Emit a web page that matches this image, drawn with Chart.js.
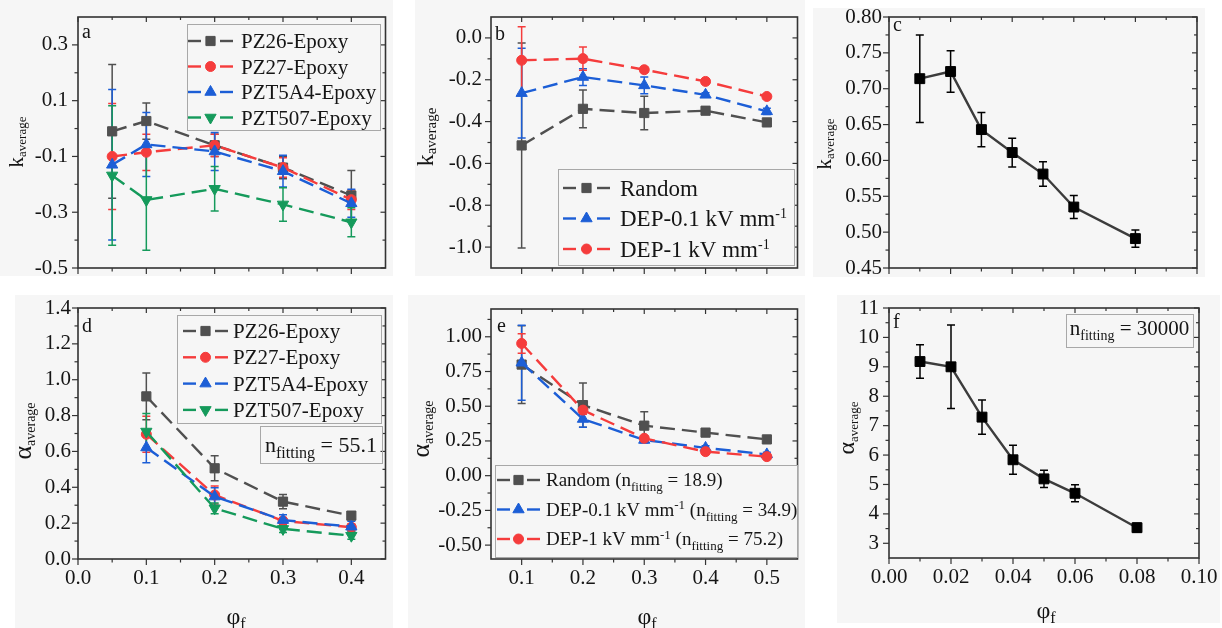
<!DOCTYPE html>
<html lang="en">
<head>
<meta charset="UTF-8">
<title>k_average and alpha_average vs phi_f</title>
<script src="https://cdn.jsdelivr.net/npm/chart.js"></script>
<style>
  body { margin: 0; background: #fff; font-family: "Liberation Serif", "DejaVu Serif", serif; }
  #fig { position: relative; width: 1222px; height: 628px; overflow: hidden; background: #fff; }
  #fig canvas { position: absolute; background: #f6f6f6; }
  #probe { position: absolute; left: -999px; top: 0; font: 21px "Liberation Serif"; }
</style>
</head>
<body>
<div id="fig">
  <canvas id="pa"></canvas>
  <canvas id="pb"></canvas>
  <canvas id="pc"></canvas>
  <canvas id="pd"></canvas>
  <canvas id="pe"></canvas>
  <canvas id="pf"></canvas>
</div>
<span id="probe">PZ26-Epoxy 0.1 φα</span>
<script>
// ---- values ----
const MATERIALS = ['PZ26-Epoxy', 'PZ27-Epoxy', 'PZT5A4-Epoxy', 'PZT507-Epoxy'];

// panel a: k_average per material
const PHI_A = [0.05, 0.1, 0.2, 0.3, 0.4];
const K_PZ26 = [-0.01, 0.027, -0.06, -0.14, -0.24];
const K_PZ26_ERR = [0.24, 0.065, 0.04, 0.04, 0.09];
const K_PZ27 = [-0.10, -0.085, -0.06, -0.14, -0.255];
const K_PZ27_ERR = [0.19, 0.065, 0.04, 0.035, 0.035];
const K_PZT5A4 = [-0.13, -0.057, -0.082, -0.153, -0.268];
const K_PZT5A4_ERR = [0.27, 0.115, 0.068, 0.057, 0.05];
const K_PZT507 = [-0.168, -0.256, -0.216, -0.272, -0.336];
const K_PZT507_ERR = [0.25, 0.18, 0.08, 0.06, 0.052];

// panel d: alpha_average per material
const PHI_D = [0.1, 0.2, 0.3, 0.4];
const A_PZ26 = [0.907, 0.506, 0.32, 0.242];
const A_PZ26_ERR = [0.13, 0.07, 0.04, 0.02];
const A_PZ27 = [0.696, 0.357, 0.212, 0.177];
const A_PZ27_ERR = [0.1, 0.05, 0.02, 0.02];
const A_PZT5A4 = [0.622, 0.348, 0.217, 0.18];
const A_PZT5A4_ERR = [0.085, 0.05, 0.03, 0.03];
const A_PZT507 = [0.711, 0.283, 0.168, 0.13];
const A_PZT507_ERR = [0.1, 0.03, 0.02, 0.02];

// panels b and e: random vs DEP
const PHI_BE = [0.1, 0.2, 0.3, 0.4, 0.5];
const K_RANDOM = [-0.514, -0.339, -0.359, -0.348, -0.404];
const K_RANDOM_ERR = [0.49, 0.09, 0.08, 0.015, 0.015];
const K_DEP01 = [-0.264, -0.187, -0.227, -0.272, -0.351];
const K_DEP01_ERR = [0.215, 0.04, 0.04, 0.01, 0.015];
const K_DEP1 = [-0.107, -0.099, -0.152, -0.208, -0.28];
const K_DEP1_ERR = [0.16, 0.055, 0.012, 0.01, 0.012];
const A_RANDOM = [0.80, 0.508, 0.36, 0.31, 0.261];
const A_RANDOM_ERR = [0.28, 0.16, 0.1, 0.02, 0.015];
const A_DEP01 = [0.813, 0.408, 0.257, 0.2, 0.153];
const A_DEP01_ERR = [0.27, 0.06, 0.02, 0.015, 0.015];
const A_DEP1 = [0.952, 0.472, 0.269, 0.173, 0.137];
const A_DEP1_ERR = [0.07, 0.03, 0.015, 0.01, 0.01];

// panels c and f: low volume fraction
const PHI_CF = [0.01, 0.02, 0.03, 0.04, 0.05, 0.06, 0.08];
const K_LOW = [0.714, 0.724, 0.643, 0.611, 0.581, 0.535, 0.491];
const K_LOW_ERR = [0.061, 0.029, 0.024, 0.02, 0.017, 0.016, 0.012];
const A_LOW = [9.18, 9.0, 7.29, 5.84, 5.19, 4.70, 3.53];
const A_LOW_ERR = [0.57, 1.42, 0.58, 0.49, 0.29, 0.29, 0.15];

const N_FIT_D = '55.1';
const N_FIT_E = ['18.9', '34.9', '75.2'];
const N_FIT_F = '30000';

// tick labels
const X_TICKS_AD = [0, 0.1, 0.2, 0.3, 0.4];
const X_TICKS_BE = [0.1, 0.2, 0.3, 0.4, 0.5];
const X_TICKS_CF = [0, 0.02, 0.04, 0.06, 0.08, 0.10];
const Y_TICKS_A = [-0.5, -0.3, -0.1, 0.1, 0.3];
const Y_TICKS_B = [-1.0, -0.8, -0.6, -0.4, -0.2, 0.0];
const Y_TICKS_C = [0.45, 0.50, 0.55, 0.60, 0.65, 0.70, 0.75, 0.80];
const Y_TICKS_D = [0, 0.2, 0.4, 0.6, 0.8, 1.0, 1.2, 1.4];
const Y_TICKS_E = [-0.5, -0.25, 0, 0.25, 0.5, 0.75, 1.0];
const Y_TICKS_F = [3, 4, 5, 6, 7, 8, 9, 10, 11];

// ---- look ----
const FONT = '"Liberation Serif", "DejaVu Serif", "Times New Roman", Times, serif';
const INK = '#151515';
Chart.defaults.font.family = FONT;

const STYLES = {
  gray:  { color: '#505050', shape: 'rect', rot: 0, r: 6.5, dash: [15, 7] },
  red:   { color: '#f53c3c', shape: 'circle', rot: 0, r: 5, dash: [15, 7] },
  blue:  { color: '#1c5ed6', shape: 'triangle', rot: 0, r: 6.5, dash: [15, 7] },
  green: { color: '#159a5b', shape: 'triangle', rot: 180, r: 6.5, dash: [15, 7] },
  black: { color: '#000000', line: '#3c3c3c', shape: 'rect', rot: 0, r: 7, dash: [] }
};

// text with sub/superscripts; y is the baseline
function rich(ctx, segs, x, y, size, subSize, align, subDy) {
  const dy = subDy === undefined ? size * 0.25 : subDy;
  let w = 0;
  segs.forEach(s => {
    ctx.font = (s.sub || s.sup ? subSize : size) + 'px ' + FONT;
    w += ctx.measureText(s.t).width;
  });
  let cx = align === 'center' ? x - w / 2 : x;
  ctx.textBaseline = 'alphabetic';
  ctx.textAlign = 'left';
  segs.forEach(s => {
    ctx.font = (s.sub || s.sup ? subSize : size) + 'px ' + FONT;
    const off = s.sub ? dy : s.sup ? -size * 0.36 : 0;
    ctx.fillText(s.t, cx, y + off);
    cx += ctx.measureText(s.t).width;
  });
}

function marker(ctx, st, x, y) {
  const r = st.r;
  ctx.save();
  ctx.fillStyle = st.color;
  ctx.strokeStyle = st.color;
  ctx.lineWidth = 1;
  ctx.beginPath();
  if (st.shape === 'rect') {
    const s = r * Math.SQRT1_2;
    ctx.rect(x - s, y - s, 2 * s, 2 * s);
  } else if (st.shape === 'circle') {
    ctx.arc(x, y, r, 0, Math.PI * 2);
  } else {
    let a = st.rot * Math.PI / 180;
    ctx.moveTo(x + Math.sin(a) * r, y - Math.cos(a) * r);
    a += 2 * Math.PI / 3;
    ctx.lineTo(x + Math.sin(a) * r, y - Math.cos(a) * r);
    a += 2 * Math.PI / 3;
    ctx.lineTo(x + Math.sin(a) * r, y - Math.cos(a) * r);
    ctx.closePath();
  }
  ctx.fill();
  ctx.stroke();
  ctx.restore();
}

function makePanel(p) {
  const [bx, by, bw, bh] = p.box;
  const [L, T, R, B] = p.area;
  const cv = document.getElementById(p.id);
  cv.width = bw; cv.height = bh;
  cv.style.left = bx + 'px'; cv.style.top = by + 'px';

  const datasets = p.series.map((s, i) => {
    const st = STYLES[s.st];
    return {
      label: s.label,
      data: s.xs.map((x, j) => ({ x, y: s.ys[j] })),
      err: s.err,
      st,
      showLine: true,
      borderColor: st.line || st.color,
      borderWidth: 2.4,
      borderDash: st.dash,
      pointStyle: st.shape,
      pointRotation: st.rot,
      pointRadius: st.r,
      pointBorderWidth: 1,
      pointBackgroundColor: st.color,
      pointBorderColor: st.color,
      order: p.series.length - i
    };
  });

  const tickFont = { size: 21, family: FONT };
  const noPad = s => { s.paddingTop = 0; s.paddingBottom = 0; s.paddingLeft = 0; s.paddingRight = 0; };

  const plugin = {
    id: 'panel_' + p.id,
    beforeDatasetsDraw(chart) {
      const { ctx, scales: { x, y } } = chart;
      ctx.save();
      ctx.lineWidth = 1.5;
      chart.data.datasets.forEach(ds => {
        ctx.strokeStyle = ds.st.color;
        ds.data.forEach((pt, j) => {
          const e = ds.err[j];
          const px = x.getPixelForValue(pt.x);
          const t = y.getPixelForValue(pt.y + e), b = y.getPixelForValue(pt.y - e);
          ctx.beginPath();
          ctx.moveTo(px, t); ctx.lineTo(px, b);
          ctx.moveTo(px - 4, t); ctx.lineTo(px + 4, t);
          ctx.moveTo(px - 4, b); ctx.lineTo(px + 4, b);
          ctx.stroke();
        });
      });
      ctx.restore();
    },
    afterDatasetsDraw(chart) {
      const { ctx, chartArea: a, scales: { x, y } } = chart;
      ctx.save();
      // frame
      ctx.strokeStyle = '#333';
      ctx.lineWidth = 1.6;
      ctx.strokeRect(a.left, a.top, a.right - a.left, a.bottom - a.top);
      ctx.lineWidth = 1.2;
      const seg = (x1, y1, x2, y2) => { ctx.beginPath(); ctx.moveTo(x1, y1); ctx.lineTo(x2, y2); ctx.stroke(); };
      const minors = (ax) => {
        const out = [];
        for (let k = Math.ceil(ax.min / ax.minor - 1e-6); k * ax.minor <= ax.max + 1e-9; k++) {
          const v = k * ax.minor;
          if (!ax.ticks.some(t => Math.abs(t - v) < ax.minor * 0.01)) out.push(v);
        }
        return out;
      };
      p.y.ticks.forEach(v => {
        const py = y.getPixelForValue(v);
        seg(a.left - 6, py, a.left, py); seg(a.right - 5, py, a.right, py);
      });
      minors(p.y).forEach(v => {
        const py = y.getPixelForValue(v);
        if (Math.abs(py - a.top) < 1 || Math.abs(py - a.bottom) < 1) return;
        seg(a.left - 3.5, py, a.left, py); seg(a.right - 3, py, a.right, py);
      });
      p.x.ticks.forEach(v => {
        const px = x.getPixelForValue(v);
        seg(px, a.bottom, px, a.bottom + 6); seg(px, a.top, px, a.top + 5);
      });
      minors(p.x).forEach(v => {
        const px = x.getPixelForValue(v);
        if (Math.abs(px - a.left) < 1 || Math.abs(px - a.right) < 1) return;
        seg(px, a.bottom, px, a.bottom + 3.5); seg(px, a.top, px, a.top + 3);
      });

      ctx.fillStyle = INK;
      // panel letter
      ctx.font = '20px ' + FONT;
      ctx.textAlign = 'left'; ctx.textBaseline = 'alphabetic';
      ctx.fillText(p.letter[0], p.letter[1] - bx, p.letter[2] - by);

      // y title (rotated)
      const yt = p.yTitle;
      ctx.save();
      ctx.translate(yt.x - bx, yt.y - by);
      ctx.rotate(-Math.PI / 2);
      rich(ctx, [{ t: yt.main }, { t: 'average', sub: true }], 0, 0, yt.size, yt.subSize, 'center', yt.subDy);
      ctx.restore();

      // x title
      if (p.xTitle) {
        rich(ctx, [{ t: 'φ' }, { t: 'f', sub: true }], p.xTitle[0] - bx, p.xTitle[1] - by, 24, 16, 'center', 5);
      }

      // legend
      const lg = p.legend;
      if (lg) {
        const [l, t, r, b] = lg.box;
        ctx.fillStyle = '#f6f6f6';
        ctx.fillRect(l - bx, t - by, r - l, b - t);
        ctx.strokeStyle = '#a8a8a8';
        ctx.lineWidth = 1;
        ctx.strokeRect(l - bx + 0.5, t - by + 0.5, r - l, b - t);
        lg.items.forEach((segs, i) => {
          const st = datasets[i].st;
          const yy = lg.y0 + i * lg.dy - by;
          const x0 = lg.line[0] - bx, x1 = lg.line[1] - bx, xm = (x0 + x1) / 2;
          ctx.strokeStyle = st.line || st.color;
          ctx.lineWidth = 2.4;
          if (st.dash.length) {
            seg(x0, yy, x0 + 13, yy); seg(x1 - 13, yy, x1, yy);
          } else {
            seg(x0, yy, x1, yy);
          }
          marker(ctx, st, xm, yy);
          ctx.fillStyle = INK;
          rich(ctx, segs, lg.text - bx, yy + lg.size * 0.34, lg.size, lg.subSize, 'left');
        });
      }

      // n_fitting note
      const nt = p.note;
      if (nt) {
        const [l, t, r, b] = nt.box;
        ctx.strokeStyle = '#a8a8a8';
        ctx.lineWidth = 1;
        ctx.strokeRect(l - bx + 0.5, t - by + 0.5, r - l, b - t);
        ctx.fillStyle = INK;
        rich(ctx, nt.segs, (l + r) / 2 - bx, nt.base - by, nt.size, nt.subSize, 'center');
      }
      ctx.restore();
    }
  };

  new Chart(cv, {
    type: 'scatter',
    data: { datasets },
    plugins: [plugin],
    options: {
      responsive: false,
      animation: false,
      events: [],
      layout: { padding: { left: 0, top: T - by, right: bx + bw - R, bottom: 0 } },
      plugins: { legend: { display: false }, tooltip: { enabled: false } },
      scales: {
        x: {
          type: 'linear', min: p.x.min, max: p.x.max,
          afterBuildTicks: s => { s.ticks = p.x.ticks.map(v => ({ value: v })); },
          afterFit: s => { s.height = by + bh - B; noPad(s); },
          grid: { display: false, drawTicks: false },
          border: { display: false },
          ticks: {
            display: !!p.x.labels, padding: 7, color: INK, font: tickFont,
            maxRotation: 0, autoSkip: false,
            callback: v => Number(v).toFixed(p.x.dec)
          }
        },
        y: {
          type: 'linear', min: p.y.min, max: p.y.max,
          afterBuildTicks: s => { s.ticks = p.y.ticks.map(v => ({ value: v })); },
          afterFit: s => { s.width = L - bx; noPad(s); },
          grid: { display: false, drawTicks: false },
          border: { display: false },
          ticks: {
            padding: p.y.pad, color: INK, font: tickFont, autoSkip: false,
            callback: v => Number(v).toFixed(p.y.dec)
          }
        }
      }
    }
  });
}

const matSeries = (xs, vals, errs) => vals.map((ys, i) => ({
  label: MATERIALS[i], xs, ys, err: errs[i], st: ['gray', 'red', 'blue', 'green'][i]
}));

const PANELS = [
  {
    id: 'pa', box: [0, 0, 393, 276], area: [78, 17, 388, 268],
    x: { min: 0, max: 0.45, ticks: X_TICKS_AD, minor: 0.05, dec: 1, labels: false },
    y: { min: -0.5, max: 0.4, ticks: Y_TICKS_A, minor: 0.1, dec: 1, pad: 10 },
    series: matSeries(PHI_A, [K_PZ26, K_PZ27, K_PZT5A4, K_PZT507], [K_PZ26_ERR, K_PZ27_ERR, K_PZT5A4_ERR, K_PZT507_ERR]),
    letter: ['a', 82, 38],
    yTitle: { main: 'k', x: 23, y: 142, size: 21, subSize: 13, subDy: 3 },
    legend: { box: [187, 24, 380, 130], y0: 41, dy: 25.5, line: [188, 233], text: 241, size: 21, subSize: 14,
      items: MATERIALS.map(m => [{ t: m }]) }
  },
  {
    id: 'pb', box: [415, 0, 390, 276], area: [491, 17, 801, 268],
    x: { min: 0.05, max: 0.55, ticks: X_TICKS_BE, minor: 0.05, dec: 1, labels: false },
    y: { min: -1.1, max: 0.1, ticks: Y_TICKS_B, minor: 0.1, dec: 1, pad: 9 },
    series: [
      { label: 'Random', xs: PHI_BE, ys: K_RANDOM, err: K_RANDOM_ERR, st: 'gray' },
      { label: 'DEP-0.1 kV mm⁻¹', xs: PHI_BE, ys: K_DEP01, err: K_DEP01_ERR, st: 'blue' },
      { label: 'DEP-1 kV mm⁻¹', xs: PHI_BE, ys: K_DEP1, err: K_DEP1_ERR, st: 'red' }
    ],
    letter: ['b', 495, 40],
    yTitle: { main: 'k', x: 433, y: 137, size: 24, subSize: 15, subDy: 3 },
    legend: { box: [558, 169, 794, 265], y0: 188, dy: 30.5, line: [563, 610], text: 620, size: 23, subSize: 14,
      items: [[{ t: 'Random' }], [{ t: 'DEP-0.1 kV mm' }, { t: '-1', sup: true }], [{ t: 'DEP-1 kV mm' }, { t: '-1', sup: true }]] }
  },
  {
    id: 'pc', box: [813, 8, 392, 269], area: [889, 17, 1199, 268],
    x: { min: 0, max: 0.10, ticks: X_TICKS_CF, minor: 0.01, dec: 2, labels: false },
    y: { min: 0.45, max: 0.80, ticks: Y_TICKS_C, minor: 0.025, dec: 2, pad: 7 },
    series: [{ label: 'k', xs: PHI_CF, ys: K_LOW, err: K_LOW_ERR, st: 'black' }],
    letter: ['c', 893, 31],
    yTitle: { main: 'k', x: 831, y: 144, size: 21, subSize: 13, subDy: 3 }
  },
  {
    id: 'pd', box: [15, 295, 378, 333], area: [78, 308, 388, 559],
    x: { min: 0, max: 0.45, ticks: X_TICKS_AD, minor: 0.05, dec: 1, labels: true },
    y: { min: 0, max: 1.4, ticks: Y_TICKS_D, minor: 0.1, dec: 1, pad: 7 },
    series: matSeries(PHI_D, [A_PZ26, A_PZ27, A_PZT5A4, A_PZT507], [A_PZ26_ERR, A_PZ27_ERR, A_PZT5A4_ERR, A_PZT507_ERR]),
    letter: ['d', 82, 332],
    yTitle: { main: 'α', x: 31, y: 431, size: 26, subSize: 14, subDy: 4 },
    xTitle: [236, 624],
    legend: { box: [177, 315, 381, 423], y0: 331, dy: 26.3, line: [183, 228], text: 233, size: 21, subSize: 14,
      items: MATERIALS.map(m => [{ t: m }]) },
    note: { box: [260, 426, 382, 463], base: 452, size: 22, subSize: 16,
      segs: [{ t: 'n' }, { t: 'fitting', sub: true }, { t: ' = ' + N_FIT_D }] }
  },
  {
    id: 'pe', box: [408, 295, 397, 333], area: [491, 309, 801, 559],
    x: { min: 0.05, max: 0.55, ticks: X_TICKS_BE, minor: 0.05, dec: 1, labels: true },
    y: { min: -0.6, max: 1.2, ticks: Y_TICKS_E, minor: 0.125, dec: 2, pad: 9 },
    series: [
      { label: 'Random', xs: PHI_BE, ys: A_RANDOM, err: A_RANDOM_ERR, st: 'gray' },
      { label: 'DEP-0.1 kV mm⁻¹', xs: PHI_BE, ys: A_DEP01, err: A_DEP01_ERR, st: 'blue' },
      { label: 'DEP-1 kV mm⁻¹', xs: PHI_BE, ys: A_DEP1, err: A_DEP1_ERR, st: 'red' }
    ],
    letter: ['e', 497, 332],
    yTitle: { main: 'α', x: 429, y: 429, size: 26, subSize: 14, subDy: 4 },
    xTitle: [647, 624],
    legend: { box: [495, 465, 797, 557], y0: 480, dy: 29.5, line: [497, 540], text: 546, size: 19, subSize: 13,
      items: [
        [{ t: 'Random (n' }, { t: 'fitting', sub: true }, { t: ' = ' + N_FIT_E[0] + ')' }],
        [{ t: 'DEP-0.1 kV mm' }, { t: '-1', sup: true }, { t: ' (n' }, { t: 'fitting', sub: true }, { t: ' = ' + N_FIT_E[1] + ')' }],
        [{ t: 'DEP-1 kV mm' }, { t: '-1', sup: true }, { t: ' (n' }, { t: 'fitting', sub: true }, { t: ' = ' + N_FIT_E[2] + ')' }]
      ] }
  },
  {
    id: 'pf', box: [837, 295, 383, 328], area: [889, 308, 1199, 558],
    x: { min: 0, max: 0.10, ticks: X_TICKS_CF, minor: 0.01, dec: 2, labels: true },
    y: { min: 2.5, max: 11, ticks: Y_TICKS_F, minor: 0.5, dec: 0, pad: 10 },
    series: [{ label: 'alpha', xs: PHI_CF, ys: A_LOW, err: A_LOW_ERR, st: 'black' }],
    letter: ['f', 893, 328],
    yTitle: { main: 'α', x: 854, y: 428, size: 24, subSize: 13, subDy: 4 },
    xTitle: [1046, 618],
    note: { box: [1066, 314, 1193, 347], base: 335, size: 21, subSize: 14,
      segs: [{ t: 'n' }, { t: 'fitting', sub: true }, { t: ' = ' + N_FIT_F }] }
  }
];

// wait for the serif face before drawing so canvas text does not fall back
const ready = document.fonts && document.fonts.load
  ? Promise.all([document.fonts.load('21px "Liberation Serif"'), document.fonts.load('21px "DejaVu Serif"')]).catch(() => {})
  : Promise.resolve();
ready.then(() => PANELS.forEach(makePanel));
</script>
</body>
</html>
